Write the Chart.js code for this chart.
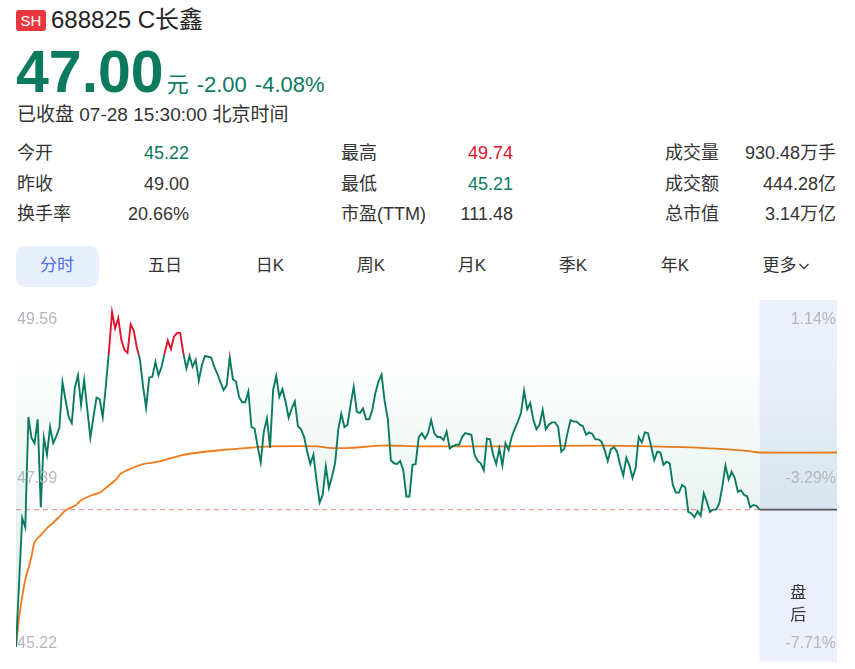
<!DOCTYPE html>
<html>
<head>
<meta charset="utf-8">
<script src="https://cdn.jsdelivr.net/npm/chart.js@4.4.1/dist/chart.umd.min.js"></script>
<style>
  body { margin: 0; background: #fff; width: 855px; height: 669px; overflow: hidden;
         font-family: Arial, "Liberation Sans", "Noto Sans CJK SC", sans-serif; color: #333; }
  .abs { position: absolute; white-space: nowrap; }
  .badge { left: 16px; top: 10px; width: 30px; height: 21px; line-height: 21px; border-radius: 3px;
           background: #e8383d; color: #fff; font-size: 15px; text-align: center; }
  .title { left: 51px; top: 7px; font-size: 24px; line-height: 26px; color: #222; }
  .quote { left: 16px; top: 43px; line-height: 58px; color: #0b7a5f; }
  .quote .big { font-size: 59px; font-weight: bold; }
  .quote .sm { font-size: 22px; }
  .status { left: 17px; top: 105px; font-size: 19px; line-height: 20px; color: #333; }
  .cell { display: flex; justify-content: space-between; font-size: 18px; line-height: 20px; }
  .green { color: #0b7a5f; }
  .red { color: #e0142c; }
  .pill { left: 16px; top: 246px; width: 83px; height: 41px; border-radius: 9px; background: #e8f0fe; }
  .tab { width: 90px; text-align: center; top: 256px; font-size: 17px; line-height: 20px; color: #333; }
  #wrap { position: absolute; left: 16px; top: 299px; width: 821px; height: 364px; }
</style>
</head>
<body>
<div class="abs badge">SH</div>
<div class="abs title">688825 C长鑫</div>
<div class="abs quote"><span class="big">47.00</span><span class="sm" style="margin-left:3px">元</span><span class="sm" style="margin-left:8px">-2.00</span><span class="sm" style="margin-left:8px">-4.08%</span></div>
<div class="abs status">已收盘 07-28 15:30:00 北京时间</div>

<div class="abs cell" style="left:17px;top:143px;width:172px"><span>今开</span><span class="green">45.22</span></div>
<div class="abs cell" style="left:17px;top:174px;width:172px"><span>昨收</span><span>49.00</span></div>
<div class="abs cell" style="left:17px;top:204px;width:172px"><span>换手率</span><span>20.66%</span></div>
<div class="abs cell" style="left:341px;top:143px;width:172px"><span>最高</span><span class="red">49.74</span></div>
<div class="abs cell" style="left:341px;top:174px;width:172px"><span>最低</span><span class="green">45.21</span></div>
<div class="abs cell" style="left:341px;top:204px;width:172px"><span>市盈(TTM)</span><span>111.48</span></div>
<div class="abs cell" style="left:665px;top:143px;width:171px"><span>成交量</span><span>930.48万手</span></div>
<div class="abs cell" style="left:665px;top:174px;width:171px"><span>成交额</span><span>444.28亿</span></div>
<div class="abs cell" style="left:665px;top:204px;width:171px"><span>总市值</span><span>3.14万亿</span></div>

<div class="abs pill"></div>
<div class="abs tab" style="left:12px;color:#4e6ef2">分时</div>
<div class="abs tab" style="left:120px">五日</div>
<div class="abs tab" style="left:225px">日K</div>
<div class="abs tab" style="left:326px">周K</div>
<div class="abs tab" style="left:427px">月K</div>
<div class="abs tab" style="left:528px">季K</div>
<div class="abs tab" style="left:630px">年K</div>
<div class="abs tab" style="left:741px">更多<svg width="12" height="10" viewBox="0 0 12 10" style="margin-left:1px"><path d="M1.5 3 L6 7.5 L10.5 3" fill="none" stroke="#333" stroke-width="1.3"/></svg></div>

<div id="wrap"><canvas id="chart"></canvas></div>

<script>
// minute closes 09:30 - 15:00 (index = minute of session, 11:30/13:00 joined)
const priceValues = [
  45.22, 46.05, 46.89, 46.77, 48.20, 47.93, 47.86, 48.17, 47.03, 47.93,
  47.71, 48.07, 47.86, 47.95, 48.06, 48.65, 48.42, 48.20, 48.12, 48.58,
  48.74, 48.36, 48.68, 48.30, 47.93, 48.20, 48.45, 48.43, 48.20, 48.60,
  49.05, 49.56, 49.35, 49.48, 49.20, 49.07, 49.03, 49.40, 49.32, 49.10,
  48.95, 48.60, 48.32, 48.71, 48.72, 48.91, 48.74, 48.85, 49.03, 49.19,
  49.08, 49.24, 49.29, 49.29, 49.03, 48.83, 48.99, 48.85, 48.94, 48.67,
  48.87, 48.99, 48.98, 48.97, 48.85, 48.76, 48.65, 48.55, 48.61, 48.97,
  48.69, 48.66, 48.46, 48.39, 48.39, 48.53, 48.07, 48.05, 47.82, 47.61,
  48.01, 48.18, 47.80, 48.55, 48.73, 48.46, 48.56, 48.40, 48.19, 48.31,
  48.40, 48.08, 48.04, 47.94, 47.75, 47.59, 47.71, 47.38, 47.09, 47.19,
  47.56, 47.28, 47.43, 47.60, 48.03, 48.24, 48.07, 48.10, 48.36, 48.59,
  48.27, 48.25, 48.31, 48.17, 48.17, 48.29, 48.51, 48.66, 48.75, 48.40,
  48.18, 47.64, 47.60, 47.59, 47.63, 47.51, 47.17, 47.17, 47.58, 47.59,
  47.94, 47.99, 47.92, 47.99, 48.16, 47.99, 47.94, 47.94, 47.90, 48.01,
  47.79, 47.82, 47.84, 47.84, 47.94, 47.99, 47.98, 47.97, 47.71, 47.63,
  47.60, 47.51, 47.92, 47.91, 47.71, 47.59, 47.79, 47.57, 47.86, 47.77,
  47.94, 48.05, 48.14, 48.25, 48.54, 48.30, 48.38, 48.16, 48.04, 48.10,
  48.29, 48.04, 48.10, 48.13, 48.13, 48.07, 47.75, 47.79, 47.99, 48.16,
  48.14, 48.14, 48.10, 48.08, 47.97, 48.00, 47.98, 47.91, 47.91, 47.88,
  47.77, 47.63, 47.78, 47.81, 47.75, 47.58, 47.44, 47.67, 47.57, 47.41,
  47.54, 47.94, 47.87, 48.00, 47.99, 47.82, 47.64, 47.75, 47.74, 47.58,
  47.62, 47.60, 47.32, 47.22, 47.22, 47.32, 47.29, 46.97, 46.95, 46.90,
  46.98, 46.92, 47.21, 47.10, 46.97, 47.00, 47.00, 47.08, 47.30, 47.57,
  47.39, 47.49, 47.41, 47.23, 47.25, 47.19, 47.17, 47.03, 47.06, 47.05,
  47.00
];
// after-hours fixed-price session (盘后)
const postValues = [
  47.00, 47.00, 47.00, 47.00, 47.00, 47.00, 47.00, 47.00, 47.00, 47.00,
  47.00, 47.00, 47.00, 47.00, 47.00, 47.00, 47.00, 47.00, 47.00, 47.00,
  47.00, 47.00, 47.00, 47.00, 47.00
];
// average price line, read at these minutes
const avgMinutes = [0, 1, 2, 3, 5, 6, 8, 10, 12, 14, 16, 19, 21, 24, 27, 29, 32, 34, 37, 41,
  46, 53, 59, 66, 72, 78, 82, 97, 101, 108, 118, 130, 160, 190, 205, 215, 226, 236, 240, 265];
const avgValues = [45.22, 45.60, 45.87, 46.09, 46.39, 46.58, 46.67, 46.76, 46.83, 46.91,
  46.99, 47.05, 47.12, 47.18, 47.22, 47.28, 47.38, 47.47, 47.53, 47.59,
  47.62, 47.70, 47.74, 47.77, 47.79, 47.81, 47.82, 47.82, 47.80, 47.80,
  47.83, 47.82, 47.82, 47.83, 47.82, 47.81, 47.79, 47.76, 47.74, 47.74];

const prevClose = 49.00;
const lastPrice = 47.00;
const closeMinute = 240;
const axisValues = [49.56, 47.39, 45.22];
const leftLabels = ['49.56', '47.39', '45.22'];
const rightLabels = ['1.14%', '-3.29%', '-7.71%'];

const GREEN = '#0a7a60', RED = '#e0142c';

const allPrices = priceValues.concat(postValues);
const priceData = allPrices.map((v, i) => ({ x: i, y: v }));
const avgData = avgMinutes.map((m, i) => ({ x: m, y: avgValues[i] }));
const lastData = [{ x: 0, y: lastPrice }, { x: 265, y: lastPrice }];

function fracOf(chart, v) {
  const a = chart.chartArea, y = chart.scales.y.getPixelForValue(v);
  return Math.min(1, Math.max(0, (y - a.top) / (a.bottom - a.top)));
}

const sessionPlugin = {
  id: 'session',
  beforeDatasetsDraw(chart) {
    const ctx = chart.ctx, x0 = chart.scales.x.getPixelForValue(closeMinute);
    ctx.save();
    ctx.fillStyle = '#eceffc';
    ctx.fillRect(x0, 1, chart.chartArea.right - x0, chart.height - 2);
    ctx.restore();
  },
  afterDraw(chart) {
    const ctx = chart.ctx, ys = chart.scales.y, a = chart.chartArea;
    ctx.save();
    ctx.font = '16px Arial, "Liberation Sans", sans-serif';
    ctx.fillStyle = '#b3b5bf';
    ctx.textBaseline = 'middle';
    const shift = [8, -1, -3];
    axisValues.forEach((v, i) => {
      const y = ys.getPixelForValue(v) + shift[i];
      ctx.textAlign = 'left';
      ctx.fillText(leftLabels[i], a.left + 1, y);
      ctx.textAlign = 'right';
      ctx.fillText(rightLabels[i], a.right - 1, y);
    });
    const cx = (chart.scales.x.getPixelForValue(closeMinute) + a.right) / 2;
    ctx.fillStyle = '#333';
    ctx.font = '16px "Noto Sans CJK SC", sans-serif';
    ctx.textAlign = 'center';
    ctx.fillText('盘', cx, 293);
    ctx.fillText('后', cx, 315);
    ctx.restore();
  }
};

new Chart(document.getElementById('chart'), {
  type: 'line',
  data: {
    datasets: [
      {
        data: priceData,
        borderWidth: 1.9,
        pointRadius: 0,
        tension: 0,
        clip: false,
        fill: { value: prevClose },
        borderColor: (c) => {
          const ch = c.chart, a = ch.chartArea;
          if (!a) return GREEN;
          const g = ch.ctx.createLinearGradient(0, a.top, 0, a.bottom);
          const t = fracOf(ch, prevClose);
          g.addColorStop(0, RED); g.addColorStop(t, RED);
          g.addColorStop(t, GREEN); g.addColorStop(1, GREEN);
          return g;
        },
        backgroundColor: (c) => {
          const ch = c.chart, a = ch.chartArea;
          if (!a) return 'rgba(0,0,0,0)';
          const g = ch.ctx.createLinearGradient(0, a.top, 0, a.bottom);
          const t = fracOf(ch, prevClose), t2 = fracOf(ch, lastPrice);
          g.addColorStop(0, 'rgba(224,20,44,0.08)');
          g.addColorStop(t, 'rgba(224,20,44,0.0)');
          g.addColorStop(t, 'rgba(11,125,98,0.0)');
          g.addColorStop(t2, 'rgba(11,125,98,0.09)');
          g.addColorStop(1, 'rgba(11,125,98,0.12)');
          return g;
        },
        segment: {
          borderColor: (s) => s.p0DataIndex >= closeMinute ? '#565a5c' : undefined
        }
      },
      {
        data: avgData,
        borderColor: '#f07a1a',
        borderWidth: 1.8,
        pointRadius: 0,
        tension: 0.3,
        fill: false
      },
      {
        data: lastData,
        borderColor: '#f29a9a',
        borderWidth: 1.3,
        borderDash: [5, 4],
        pointRadius: 0,
        fill: false
      }
    ]
  },
  options: {
    responsive: true,
    maintainAspectRatio: false,
    animation: false,
    layout: { padding: { top: 13, bottom: 16, left: 0, right: 0 } },
    plugins: { legend: { display: false }, tooltip: { enabled: false } },
    scales: {
      x: { type: 'linear', min: 0, max: 265, display: false },
      y: { min: 45.22, max: 49.56, display: false }
    }
  },
  plugins: [sessionPlugin]
});
</script>
</body>
</html>
